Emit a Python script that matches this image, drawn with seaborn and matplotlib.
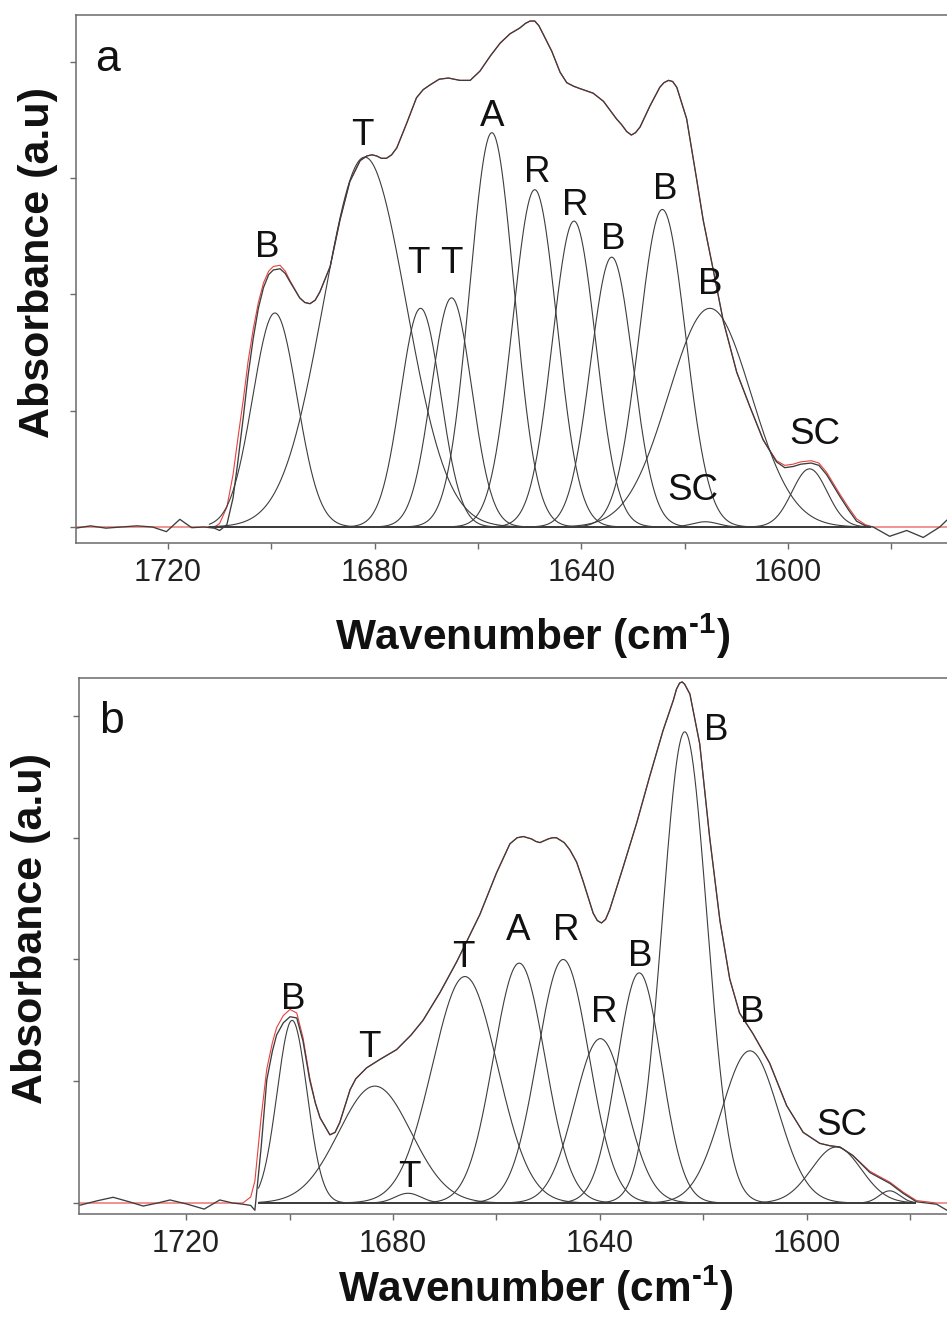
import numpy as np
import matplotlib
matplotlib.use("Agg")
import matplotlib.pyplot as plt
import seaborn as sns

# ---------------- Panel a data ----------------
a_wn = [1737.8, 1735, 1732, 1729, 1726, 1723, 1720.3, 1717.7, 1715.4, 1713,
        1711, 1710, 1708.6, 1707.4, 1706.5, 1705.4, 1704.5, 1703.5, 1702.5, 1701.5,
        1700.5, 1699.6, 1698.3, 1697.3, 1696.4, 1694.5, 1693.5, 1692.5, 1691.5, 1690.6,
        1688.6, 1686.7, 1684.8, 1682.8, 1681.5, 1680.5, 1679.6, 1678.7, 1677.7, 1676.7,
        1675.7, 1673.8, 1671.9, 1670.6, 1669.3, 1667.5, 1665.7, 1663.5, 1661.5, 1659.6,
        1657.6, 1655.7, 1653.8, 1651.9, 1650.8, 1649.9, 1649.0, 1648.2, 1647.4, 1645.7,
        1644.1, 1642.8, 1641.5, 1640.3, 1637.7, 1635.7, 1633.2, 1632.2, 1631.2, 1630.3,
        1629.5, 1628.6, 1626.7, 1624.8, 1624.0, 1623.1, 1622.3, 1621.5, 1619.6, 1617.7,
        1616.4, 1614.4, 1612.5, 1609.9, 1607.4, 1604.8, 1602.2, 1600.6, 1599.0, 1597.5,
        1595.5, 1594.0, 1592.5, 1589.9, 1588.3, 1586.7, 1585.0, 1583.5, 1580.3, 1577.0,
        1573.8, 1570.6, 1569.2]
a_measured = [-0.01, 0.01, -0.01, 0.0, 0.01, 0.0, -0.04, 0.066, -0.006, 0.0,
              -0.01, -0.03, 0.02, 0.25, 0.55, 0.95, 1.30, 1.62, 1.88, 2.06,
              2.17, 2.21, 2.22, 2.18, 2.11, 1.97, 1.93, 1.92, 1.95, 2.02,
              2.24, 2.64, 2.97, 3.15, 3.19, 3.20, 3.19, 3.17, 3.17, 3.20,
              3.26, 3.47, 3.69, 3.76, 3.80, 3.85, 3.86, 3.84, 3.84, 3.92,
              4.05, 4.16, 4.24, 4.29, 4.33, 4.35, 4.35, 4.31, 4.24, 4.09,
              3.91, 3.82, 3.79, 3.77, 3.73, 3.66, 3.51, 3.46, 3.40, 3.37,
              3.39, 3.44, 3.62, 3.78, 3.82, 3.84, 3.83, 3.78, 3.51, 3.00,
              2.64, 2.20, 1.77, 1.33, 1.04, 0.75, 0.56, 0.51, 0.52, 0.54,
              0.55, 0.53, 0.45, 0.26, 0.15, 0.05, 0.01, 0.0, -0.08, -0.03,
              -0.09, 0.0, 0.06]
a_fit = [0.0, 0.0, 0.0, 0.0, 0.0, 0.0, 0.0, 0.0, 0.0, 0.0,
         0.0, 0.03, 0.17, 0.45, 0.75, 1.10, 1.42, 1.70, 1.93, 2.10,
         2.20, 2.24, 2.25, 2.20, 2.12, 1.97, 1.93, 1.92, 1.95, 2.02,
         2.24, 2.64, 2.97, 3.15, 3.19, 3.20, 3.19, 3.17, 3.17, 3.20,
         3.26, 3.47, 3.69, 3.76, 3.80, 3.85, 3.86, 3.84, 3.84, 3.92,
         4.05, 4.16, 4.24, 4.29, 4.33, 4.35, 4.35, 4.31, 4.24, 4.09,
         3.91, 3.82, 3.79, 3.77, 3.73, 3.66, 3.51, 3.46, 3.40, 3.37,
         3.39, 3.44, 3.62, 3.78, 3.82, 3.84, 3.83, 3.78, 3.51, 3.00,
         2.64, 2.20, 1.77, 1.33, 1.04, 0.75, 0.57, 0.53, 0.54, 0.56,
         0.57, 0.55, 0.47, 0.28, 0.17, 0.07, 0.02, 0.0, 0.0, 0.0,
         0.0, 0.0, 0.0]
a_band_labels = ["B", "T", "T", "T", "A", "R", "R", "B", "B", "B", "SC", "SC"]
a_band_centers = [1699.3, 1681.9, 1671.1, 1665.1, 1657.3, 1649.0, 1641.4, 1634.1, 1624.3, 1615.1, 1616.0, 1595.8]
a_band_heights = [1.84, 3.18, 1.88, 1.97, 3.39, 2.90, 2.63, 2.32, 2.73, 1.88, 0.045, 0.50]
a_band_widths = [4.3, 8.0, 3.9, 3.9, 4.3, 4.3, 4.2, 4.1, 4.5, 8.0, 2.5, 3.4]
a_label_x = [1700.7, 1682.3, 1671.5, 1665.1, 1657.3, 1648.6, 1641.2, 1633.8, 1623.8, 1615.1, 1618.3, 1594.8]
a_label_y = [2.44, 3.40, 2.30, 2.30, 3.56, 3.08, 2.80, 2.51, 2.94, 2.12, 0.35, 0.83]
a_domain = (1712.0, 1584.0)

# ---------------- Panel b data ----------------
b_wn = [1740.7, 1737, 1734.1, 1731, 1728.3, 1725.5, 1723.1, 1719.9, 1716.5, 1713.5,
        1711, 1709, 1707.5, 1706.7, 1705.5, 1704.4, 1703.3, 1702.5, 1701.2, 1699.9,
        1698.6, 1697.4, 1696.1, 1695.0, 1694.1, 1692.2, 1691.2, 1690.3, 1688.3, 1687.2,
        1685.1, 1682.5, 1679.3, 1676.5, 1674.2, 1670.9, 1667.7, 1665.5, 1663.2, 1660.0,
        1657.4, 1656.0, 1654.8, 1653.2, 1652.4, 1651.6, 1650.0, 1649.2, 1648.4, 1646.9,
        1645.8, 1644.5, 1643.3, 1641.3, 1640.5, 1639.7, 1638.9, 1638.1, 1635.5, 1632.9,
        1630.4, 1627.8, 1625.8, 1625.2, 1624.6, 1624.1, 1623.6, 1622.6, 1620.7, 1618.8,
        1616.8, 1614.9, 1613.0, 1610.4, 1607.2, 1603.9, 1600.7, 1597.5, 1595.5, 1593.6,
        1591.1, 1587.8, 1583.9, 1581.4, 1578.8, 1574.9, 1572.9]
b_measured = [-0.02, 0.02, 0.047, 0.01, -0.025, 0.0, 0.025, -0.008, -0.05, 0.025,
              0.0, -0.01, -0.02, -0.06, 0.45, 1.01, 1.25, 1.38, 1.48, 1.53,
              1.52, 1.33, 1.01, 0.82, 0.70, 0.56, 0.58, 0.66, 0.93, 1.02,
              1.11, 1.18, 1.26, 1.38, 1.50, 1.73, 1.98, 2.17, 2.37, 2.71,
              2.95, 3.00, 3.01, 2.99, 2.97, 2.96, 2.99, 3.00, 3.00, 2.96,
              2.90, 2.80, 2.65, 2.38, 2.32, 2.30, 2.33, 2.41, 2.76, 3.12,
              3.50, 3.88, 4.13, 4.22, 4.27, 4.28, 4.26, 4.18, 3.77, 3.01,
              2.32, 1.84, 1.56, 1.39, 1.15, 0.80, 0.58, 0.49, 0.47, 0.46,
              0.39, 0.25, 0.16, 0.08, 0.01, -0.01, -0.06]
b_fit = [0.0, 0.0, 0.0, 0.0, 0.0, 0.0, 0.0, 0.0, 0.0, 0.0,
         0.0, 0.0, 0.05, 0.18, 0.70, 1.10, 1.32, 1.44, 1.54, 1.59,
         1.56, 1.36, 1.03, 0.82, 0.70, 0.56, 0.58, 0.66, 0.93, 1.02,
         1.11, 1.18, 1.26, 1.38, 1.50, 1.73, 1.98, 2.17, 2.37, 2.71,
         2.95, 3.00, 3.01, 2.99, 2.97, 2.96, 2.99, 3.00, 3.00, 2.96,
         2.90, 2.80, 2.65, 2.38, 2.32, 2.30, 2.33, 2.41, 2.76, 3.12,
         3.50, 3.88, 4.13, 4.22, 4.27, 4.28, 4.26, 4.18, 3.77, 3.01,
         2.32, 1.84, 1.56, 1.39, 1.15, 0.80, 0.58, 0.49, 0.47, 0.46,
         0.39, 0.26, 0.17, 0.09, 0.02, 0.0, 0.0]
b_band_labels = ["B", "T", "T", "T", "A", "R", "R", "B", "B", "B", "SC", ""]
b_band_centers = [1699.5, 1683.5, 1677.1, 1666.1, 1655.6, 1647.1, 1639.9, 1632.4, 1623.6, 1611.0, 1594.3, 1584.0]
b_band_heights = [1.50, 0.96, 0.08, 1.86, 1.97, 2.00, 1.35, 1.89, 3.87, 1.25, 0.46, 0.10]
b_band_widths = [2.9, 7.0, 2.5, 6.3, 5.0, 5.0, 5.0, 4.3, 4.3, 5.5, 4.8, 2.0]
b_label_x = [1699.3, 1684.6, 1676.9, 1666.4, 1655.8, 1646.5, 1639.2, 1632.2, 1617.6, 1610.5, 1593.3, 0]
b_label_y = [1.70, 1.31, 0.24, 2.05, 2.27, 2.27, 1.60, 2.06, 3.91, 1.60, 0.67, 0]
b_domain = (1706.0, 1579.0)

tick_values = [1720, 1700, 1680, 1660, 1640, 1620, 1600, 1580]
tick_labels = ["1720", "", "1680", "", "1640", "", "1600", ""]

# ---------------- Style ----------------
sns.set_theme(style="ticks")
plt.rcParams['font.family'] = ['Liberation Sans', 'DejaVu Sans']
plt.rcParams['mathtext.fontset'] = 'custom'
plt.rcParams['mathtext.rm'] = 'Liberation Sans'
plt.rcParams['mathtext.bf'] = 'Liberation Sans:bold'

W, H = 947, 1318
fig = plt.figure(figsize=(W / 100, H / 100), dpi=100)
fig.patch.set_facecolor("white")

COMP = "#3d3d3d"
RED = "#e8413c"
SPINE = "#6a6a6a"


def draw_panel(ax, wn, measured, fit, labels, centers, heights, widths,
               lx, ly, domain, xlim, ylim, letter):
    # fitted sum (red) underneath, measured spectrum (gray) on top
    sns.lineplot(x=wn, y=fit, ax=ax, color=RED, linewidth=0.8, errorbar=None,
                 estimator=None, sort=False)
    xs = np.linspace(domain[0], domain[1], 900)
    for c, h, s in zip(centers, heights, widths):
        ys = h * np.exp(-(xs - c) ** 2 / (2 * s ** 2))
        sns.lineplot(x=xs, y=ys, ax=ax, color=COMP, linewidth=0.8, errorbar=None,
                     estimator=None, sort=False)
    sns.lineplot(x=wn, y=measured, ax=ax, color=COMP, linewidth=0.95, errorbar=None,
                 estimator=None, sort=False)
    for t, x, y in zip(labels, lx, ly):
        if t:
            ax.annotate(t, (x, y), xytext=(0, -9.7), textcoords="offset points",
                        ha="center", va="baseline", fontsize=26.5, color="#111111")
    ax.set_xlim(*xlim)
    ax.set_ylim(*ylim)
    ax.set_xticks(tick_values)
    ax.set_xticklabels(tick_labels)
    ax.set_yticks([0, 1, 2, 3, 4])
    ax.set_yticklabels([])
    ax.set_xlabel("")
    ax.set_ylabel("")
    ax.spines['right'].set_visible(False)
    for sp in ['left', 'top', 'bottom']:
        ax.spines[sp].set_visible(True)
        ax.spines[sp].set_color(SPINE)
        ax.spines[sp].set_linewidth(1.1)
    ax.tick_params(axis='both', direction='out', length=4, width=1.0, color=SPINE,
                   labelsize=22, labelcolor="#222222", pad=7)
    ax.text(*letter[1], letter[0], transform=ax.transAxes, ha="center", va="baseline",
            fontsize=32, color="#111111")
    ax.set_facecolor("white")


ax_a = fig.add_axes([76 / W, (H - 543) / H, (W - 76) / W, 528 / H])
draw_panel(ax_a, a_wn, a_measured, a_fit, a_band_labels, a_band_centers, a_band_heights,
           a_band_widths, a_label_x, a_label_y, a_domain, (1737.8, 1569.2), (-0.1376, 4.402),
           ("a", (0.0367, 0.894)))

ax_b = fig.add_axes([79 / W, (H - 1214) / H, (W - 79) / W, 536 / H])
draw_panel(ax_b, b_wn, b_measured, b_fit, b_band_labels, b_band_centers, b_band_heights,
           b_band_widths, b_label_x, b_label_y, b_domain, (1740.7, 1572.9), (-0.0903, 4.312),
           ("b", (0.0369, 0.897)))

ylab = "Absorbance (a.u)"
xlab = "Wavenumber (cm$^{\\mathbf{\u2010}\\mathbf{1}}$)"
fig.text(38 / W, 1 - 263 / H, ylab, rotation=90, ha="center", va="center",
         fontsize=31, fontweight="bold", color="#111111")
fig.text(31 / W, 1 - 928 / H, ylab, rotation=90, ha="center", va="center",
         fontsize=31, fontweight="bold", color="#111111")
fig.text(533 / W, 1 - 636 / H, xlab, ha="center", va="center",
         fontsize=30.5, fontweight="bold", color="#111111")
fig.text(536 / W, 1 - 1288 / H, xlab, ha="center", va="center",
         fontsize=30.5, fontweight="bold", color="#111111")

fig.savefig("out.png", dpi=100, facecolor="white")
